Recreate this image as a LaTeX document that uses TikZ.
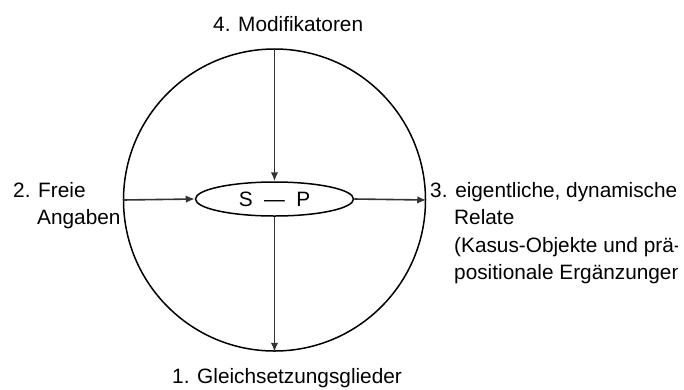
\documentclass[tikz,border=0pt]{standalone}
\usepackage{fontspec}
\setmainfont{Liberation Sans}
\usetikzlibrary{arrows.meta,shapes.geometric}
\tikzset{
  lbl/.style={inner sep=0pt, anchor=base west, font=\fontsize{20.8pt}{27.5pt}\selectfont},
  arr/.style={line width=1.6pt, black!80, -{Latex[length=9pt,width=7.5pt]}},
  ring/.style={circle, draw, line width=1.5pt, minimum size=302pt, inner sep=0pt},
  core/.style={ellipse, draw, line width=1.5pt, minimum width=158pt, minimum height=34pt, inner sep=0pt, font=\fontsize{20.8pt}{27.5pt}\selectfont}
}
\begin{document}
\begin{tikzpicture}[x=1pt,y=-1pt]
\useasboundingbox (0,0) rectangle (684,389);
\node[ring] (C) at (274.5,200) {};
\node[core] (E) at (274.5,199) {S\hspace{0.55em}—\hspace{0.55em}P};
\draw[arr] (C.north) -- (E.north);
\draw[arr] (C.west) -- (E.west);
\draw[arr] (E.east) -- (C.east);
\draw[arr] (E.south) -- (C.south);
\node[lbl] (t4) at (213,31) {4. Modifikatoren};
\node[lbl] (t1) at (172,383) {1. Gleichsetzungsglieder};
\node[lbl] (t2a) at (13,197) {2. Freie};
\node[lbl] (t2b) at (37,224.5) {Angaben};
\begin{scope}
\clip (0,0) rectangle (677,389);
\node[lbl] (t3a) at (430,197) {3. eigentliche, dynamische};
\node[lbl] (t3b) at (454,224.5) {Relate};
\node[lbl] (t3c) at (454,252) {(Kasus-Objekte und prä-};
\node[lbl] (t3d) at (454,279.5) {positionale Ergänzungen};
\end{scope}
\end{tikzpicture}
\end{document}
